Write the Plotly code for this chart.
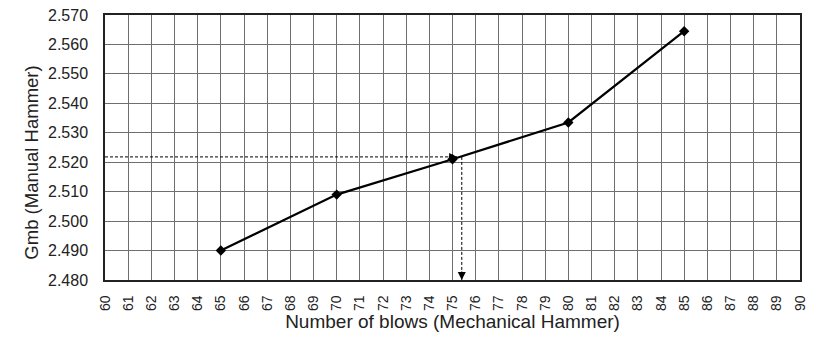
import plotly.graph_objects as go

blows = [65, 70, 75, 80, 85]
gmb = [2.490, 2.509, 2.521, 2.5335, 2.5645]

x_ticks = list(range(60, 91))
y_ticks = [2.480, 2.490, 2.500, 2.510, 2.520, 2.530, 2.540, 2.550, 2.560, 2.570]

target_gmb = 2.5218
read_blows = 75.4
horiz_end = 75.2

FONT = "Liberation Sans, Arial, sans-serif"

fig = go.Figure()

# dashed reading lines
fig.add_trace(go.Scatter(x=[60, horiz_end], y=[target_gmb, target_gmb], mode="lines",
                         line=dict(color="black", width=1, dash="3px,2px"),
                         hoverinfo="skip", showlegend=False))
fig.add_trace(go.Scatter(x=[read_blows, read_blows], y=[target_gmb, 2.480], mode="lines",
                         line=dict(color="black", width=1, dash="3px,2px"),
                         hoverinfo="skip", showlegend=False))

fig.add_trace(go.Scatter(x=blows, y=gmb, mode="lines+markers",
                         line=dict(color="black", width=2.2),
                         marker=dict(symbol="diamond", size=8, color="black"),
                         showlegend=False))

# arrow heads
fig.add_annotation(x=horiz_end, y=target_gmb, ax=-10, ay=0, xref="x", yref="y",
                   showarrow=True, arrowhead=2, arrowsize=1.6, arrowwidth=1,
                   arrowcolor="black", text="")
fig.add_annotation(x=read_blows, y=2.480, ax=0, ay=-10, xref="x", yref="y",
                   showarrow=True, arrowhead=2, arrowsize=1.6, arrowwidth=1,
                   arrowcolor="black", text="")

# y-axis title (placed slightly below the plot centre, as in the original)
fig.add_annotation(text="Gmb (Manual Hammer)", xref="paper", yref="paper",
                   x=-0.107, y=0.4415, xanchor="center", yanchor="middle",
                   textangle=-90, showarrow=False,
                   font=dict(family=FONT, size=18.5, color="#222"))

fig.update_xaxes(range=[60, 90], tickmode="array", tickvals=x_ticks,
                 ticktext=[str(v) for v in x_ticks], tickangle=-90,
                 showgrid=True, gridcolor="#6e6e6e", gridwidth=1,
                 showline=True, linecolor="#222", linewidth=1.5, mirror=True,
                 ticks="", zeroline=False, ticklabelstandoff=8, automargin=False,
                 ticklabeloverflow="allow",
                 tickfont=dict(family=FONT, size=14, color="#222"),
                 title=dict(text="Number of blows (Mechanical Hammer)",
                            font=dict(family=FONT, size=19, color="#222"), standoff=3))
fig.update_yaxes(range=[2.480, 2.570], tickmode="array", tickvals=y_ticks,
                 ticktext=[f"{v:.3f}" for v in y_ticks],
                 showgrid=True, gridcolor="#6e6e6e", gridwidth=1,
                 showline=True, linecolor="#222", linewidth=1.5, mirror=True,
                 ticks="", zeroline=False, ticklabelstandoff=12, automargin=False,
                 ticklabeloverflow="allow",
                 tickfont=dict(family=FONT, size=16, color="#222"))

fig.update_layout(width=810, height=330, margin=dict(l=97, r=18, t=7, b=58),
                  plot_bgcolor="white", paper_bgcolor="white")

fig.write_html("out.html")
